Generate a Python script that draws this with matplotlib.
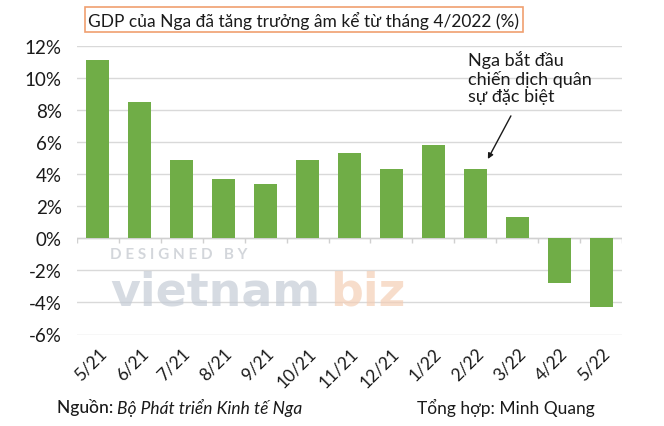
import matplotlib
matplotlib.use("Agg")
import matplotlib.pyplot as plt
import numpy as np

months = ["5/21", "6/21", "7/21", "8/21", "9/21", "10/21", "11/21", "12/21",
          "1/22", "2/22", "3/22", "4/22", "5/22"]
gdp_growth = [11.1, 8.5, 4.9, 3.7, 3.4, 4.9, 5.3, 4.3, 5.8, 4.3, 1.3, -2.8, -4.3]
y_ticks = [-6, -4, -2, 0, 2, 4, 6, 8, 10, 12]

title = "GDP của Nga đã tăng trưởng âm kể từ tháng 4/2022 (%)"
note = "Nga bắt đầu\nchiến dịch quân\nsự đặc biệt"

plt.rcParams['font.family'] = ['Lato', 'DejaVu Sans']

fig = plt.figure(figsize=(6.64, 4.27), dpi=100)
ax = fig.add_axes([77/664, 1 - 335.5/427, 545/664, (335.5 - 47)/427])

x = np.arange(len(months))
ax.bar(x, gdp_growth, width=0.55, color="#70ad47", zorder=3)

ax.set_xlim(-0.5, len(months) - 0.5)
ax.set_ylim(-6, 12)
ax.set_yticks(y_ticks)
ax.set_yticklabels([f"{v}%" for v in y_ticks], fontsize=13.5, color="#1a1a1a")
ax.yaxis.grid(True, color="#d9d9d9", linewidth=1, zorder=0)
ax.tick_params(axis="y", length=0, pad=11)
ax.set_xticks(x)
ax.set_xticklabels(months, rotation=45, ha="right", rotation_mode="anchor",
                   fontsize=12.5, color="#1a1a1a")
ax.tick_params(axis="x", length=0, pad=7)
for s in ax.spines.values():
    s.set_visible(False)

# zero axis line with category boundary ticks
ax.axhline(0, color="#d0d0d0", linewidth=1, zorder=2)
ax.vlines(np.arange(-0.5, len(months)), -0.28, 0, color="#d0d0d0", linewidth=1, zorder=2)

# watermark
fig.text(110/664, 1 - 255/427, "D E S I G N E D   B Y", fontsize=11, color="#c8ccd2",
         fontweight="bold", va="center", ha="left", alpha=0.8)
fig.text(110/664, 1 - 306/427, "vietnam", fontsize=33, color="#c5ccd6",
         family="DejaVu Sans", fontweight="bold", va="baseline", ha="left", alpha=0.7)
fig.text(330/664, 1 - 306/427, "biz", fontsize=33, color="#f4cfb6",
         family="DejaVu Sans", fontweight="bold", va="baseline", ha="left", alpha=0.7)

# title
fig.text(304/664, 1 - 20.5/427, title, fontsize=12.5, color="#1a1a1a", ha="center", va="center",
         bbox=dict(boxstyle="square,pad=0.22", facecolor="white", edgecolor="#f0a070", linewidth=1.2))

# annotation
ax.text(8.83, 11.75, note, fontsize=13, color="#1a1a1a", ha="left", va="top", linespacing=1.12)
ax.annotate("", xy=(9.3, 4.95), xytext=(9.85, 7.64),
            arrowprops=dict(arrowstyle="-|>", color="#1a1a1a", lw=1, mutation_scale=8,
                            shrinkA=0, shrinkB=0))

# footer
fig.text(57/664, 1 - 408/427, "Nguồn: ", fontsize=12.5, color="#1a1a1a", ha="left", va="center",
         fontweight="medium")
fig.text(117/664, 1 - 408/427, "Bộ Phát triển Kinh tế Nga", fontsize=12.5, color="#1a1a1a",
         ha="left", va="center", style="italic")
fig.text(595/664, 1 - 408/427, "Tổng hợp: Minh Quang", fontsize=12.5, color="#1a1a1a",
         ha="right", va="center")

fig.savefig("out.png", dpi=100, facecolor="white")
